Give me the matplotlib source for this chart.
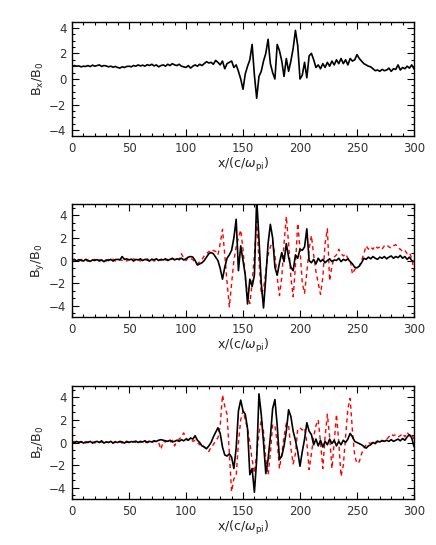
import numpy as np
import matplotlib
matplotlib.use("Agg")
import matplotlib.pyplot as plt
from matplotlib.ticker import MultipleLocator

# x positions (c/omega_pi), step 2 from 0 to 300
x = np.arange(0, 301, 2)

bx_black = [
 0.95, 1.05, 1.00, 1.02, 0.95, 1.00, 0.98, 1.05, 0.97, 1.08,
 1.00, 1.05, 1.10, 0.98, 1.05, 1.02, 0.95, 1.00, 0.92, 0.98,
 0.90, 0.85, 0.95, 0.90, 0.98, 1.00, 0.95, 1.05, 1.00, 1.10,
 1.02, 1.08, 1.00, 1.12, 1.05, 1.15, 1.02, 1.10, 0.95, 1.05,
 1.10, 1.00, 1.15, 1.05, 1.20, 1.10, 1.05, 1.15, 1.00, 0.95,
 0.90, 1.05, 0.85, 1.00, 1.10, 1.00, 1.15, 1.05, 1.20, 1.35,
 1.25, 1.30, 1.15, 1.45, 1.30, 1.10, 1.40, 0.80, 1.20, 1.30,
 1.40, 0.90, 1.10, 0.60, 0.00, -0.80, 0.40, 1.00, 1.50, 2.70,
 0.30, -1.50, 0.20, 0.60, 1.40, 2.00, 3.10, 1.20, 0.50, 0.00,
 2.70, 2.20, 1.40, 0.20, 1.60, 0.60, 1.40, 2.40, 3.80, 2.60,
 0.00, 0.30, 1.30, 0.10, 1.80, 2.00, 1.50, 0.90, 1.10, 0.80,
 1.20, 0.90, 1.30, 1.00, 1.40, 1.10, 1.50, 1.20, 1.60, 1.20,
 1.50, 1.10, 1.60, 1.40, 1.50, 1.90, 1.60, 1.40, 1.20, 1.10,
 1.00, 0.95, 0.80, 0.65, 0.70, 0.60, 0.75, 0.65, 0.70, 0.85,
 0.60, 0.80, 0.75, 1.10, 0.70, 0.90, 0.80, 1.00, 0.85, 1.10,
 0.80]

by_black = [
 0.05, 0.10, -0.05, 0.08, 0.00, -0.05, 0.10, 0.02, -0.08, 0.05,
 0.00, 0.08, -0.05, 0.05, -0.10, 0.05, 0.00, 0.10, -0.05, 0.08,
 0.10, 0.05, 0.35, 0.10, 0.15, 0.05, 0.12, -0.05, 0.10, 0.05,
 0.15, 0.00, 0.10, 0.05, -0.05, 0.12, 0.05, 0.15, 0.00, 0.10,
 0.05, 0.15, 0.00, 0.10, 0.20, 0.05, 0.15, 0.10, 0.20, 0.05,
 0.15, 0.30, 0.35, 0.30, 0.00, -0.40, -0.30, -0.20, 0.00, 0.30,
 0.60, 0.70, 0.60, 0.30, 0.00, -0.70, -1.65, -0.60, 0.20, 0.50,
 0.90, 2.00, 3.65, -0.90, 1.30, 0.00, -1.30, -3.85, -1.65, -2.30,
 -1.30, 5.50, 1.90, -2.00, -4.20, -1.50, 1.50, 3.20, 2.00, -0.60,
 -1.30, -0.20, 0.70, -0.10, 1.50, 0.30, -0.60, -0.90, 0.50, 0.20,
 1.00, 0.90, 1.20, 2.80, 0.00, -0.20, 0.10, -0.30, 0.20, -0.10,
 0.10, -0.20, 0.00, 0.15, -0.10, 0.05, 0.00, 0.20, -0.10, 0.10,
 0.00, 0.15, -0.10, -0.30, -0.60, -0.65, -0.50, -0.20, 0.20, 0.10,
 0.30, 0.15, 0.35, 0.20, 0.10, 0.30, 0.20, 0.35, 0.15, 0.30,
 0.40, 0.20, 0.35, 0.25, 0.45, 0.20, 0.35, 0.10, 0.30, 0.00,
 -0.10]

by_red = [
 0.00, 0.08, 0.00, -0.05, 0.10, 0.00, 0.05, -0.08, 0.10, 0.02,
 0.10, -0.05, 0.08, 0.00, 0.05, -0.05, 0.10, 0.00, 0.12, -0.05,
 0.05, 0.10, 0.00, 0.08, -0.05, 0.10, 0.00, 0.15, 0.02, 0.08,
 -0.05, 0.10, 0.05, 0.15, 0.00, 0.10, -0.05, 0.05, 0.10, 0.00,
 0.20, 0.05, 0.10, -0.05, 0.15, 0.10, 0.20, 0.05, 0.60, 0.20,
 0.00, 0.25, 0.15, 0.10, -0.20, -0.30, -0.10, 0.10, 0.40, 0.60,
 0.80, 0.70, 0.90, 0.80, 0.50, 1.50, 2.75, 0.50, -1.90, -4.10,
 -2.00, 0.00, 1.20, 2.00, 2.70, 1.00, -1.50, -3.00, -3.80, -2.00,
 0.50, 3.50, 0.00, -3.00, -2.50, -1.00, 0.50, 1.20, 1.70, 0.50,
 -1.50, -3.10, -1.50, 1.50, 3.90, 1.50, -1.50, -3.20, -0.50, 3.30,
 1.00, -2.00, -2.90, -1.00, 1.00, 2.20, 0.50, -1.00, -2.00, -3.00,
 -1.50, 1.50, 2.80, -1.80, -0.50, 0.30, 0.50, 1.00, 0.60, 0.40,
 0.60, 0.20, 0.10, -1.20, -0.80, -0.60, -0.50, 0.00, 0.60, 1.30,
 1.00, 1.20, 1.00, 1.30, 1.10, 1.20, 1.00, 1.30, 1.40, 1.20,
 1.10, 1.30, 1.40, 1.10, 1.00, 0.80, 0.90, 0.60, 0.70, 0.20,
 -0.90]

bz_black = [
 0.05, -0.05, 0.10, 0.00, 0.08, -0.05, 0.05, 0.00, 0.10, -0.05,
 0.05, 0.10, 0.00, 0.15, -0.05, 0.05, 0.00, 0.10, -0.05, 0.05,
 0.00, 0.10, 0.05, -0.05, 0.10, 0.00, 0.08, 0.05, 0.12, 0.00,
 0.10, 0.05, 0.15, 0.00, 0.10, 0.05, 0.15, 0.10, 0.20, 0.25,
 0.20, 0.15, 0.10, 0.20, 0.05, 0.10, 0.20, 0.10, 0.25, 0.15,
 0.30, 0.20, 0.40, 0.30, 0.60, 0.20, 0.00, -0.30, -0.40, -0.55,
 -0.30, 0.00, 0.50, 0.90, 1.30, 0.80, -0.40, -1.10, -1.20, -1.00,
 -1.30, -2.30, -0.50, 2.80, 3.75, 2.80, 2.50, 1.20, -2.85, -2.30,
 -4.40, -1.50, 4.30, 2.50, 0.00, -2.75, -1.50, 0.50, 3.00, 3.80,
 1.50, -1.50, -1.20, -0.30, 1.00, 2.90, 2.30, 1.00, 0.20, -0.80,
 -2.10, -0.80, 0.30, 1.75, 1.00, 0.70, -0.20, 0.30, -0.30, 0.20,
 -0.40, 0.10, -0.20, 0.30, -0.10, 0.20, -0.30, 0.10, -0.20, 0.20,
 0.00, 0.30, 0.80, 0.50, 0.10, 0.00, -0.10, -0.20, -0.35, -0.50,
 -0.30, -0.20, 0.00, -0.10, 0.10, 0.05, 0.15, 0.10, 0.20, 0.10,
 0.25, 0.10, 0.20, 0.30, 0.15, 0.35, 0.20, 0.50, 0.70, 0.40,
 -0.35]

bz_red = [
 0.00, 0.10, -0.05, 0.05, 0.00, 0.10, -0.05, 0.08, 0.00, 0.05,
 -0.05, 0.10, 0.00, 0.05, -0.10, 0.05, 0.00, 0.08, -0.05, 0.10,
 0.00, 0.05, -0.05, 0.10, 0.00, 0.05, -0.05, 0.10, 0.00, 0.15,
 0.00, 0.10, -0.05, 0.05, 0.15, 0.00, 0.10, 0.05, 0.00, -0.60,
 0.10, 0.05, 0.15, 0.00, 0.20, -0.30, 0.10, 0.30, 0.50, 0.85,
 0.40, 0.20, 0.30, 0.10, 0.20, 0.00, -0.20, -0.10, -0.40, -0.60,
 -0.80, -0.40, -0.20, 0.20, 0.40, 1.50, 4.20, 3.20, 2.50, -1.00,
 -4.35, -3.20, -3.00, 0.00, 2.00, 2.80, 2.00, 1.20, 0.00, -1.50,
 -2.70, -1.00, 0.80, 2.00, 1.00, -1.50, -2.85, -1.00, 1.60, 1.50,
 0.00, -2.30, -1.00, 0.50, 1.70, 1.50, -0.50, -1.90, -1.00, 1.20,
 1.30, 1.10, 1.30, 0.00, -2.40, -1.00, 0.50, 1.50, 2.00, 0.00,
 -2.30, 0.50, 2.50, 0.50, -2.30, 0.00, 2.50, 0.00, -3.00, -2.00,
 0.50, 3.00, 3.90, 1.00, -1.20, -1.85, -1.70, -1.00, -0.50, -0.20,
 0.00, -0.10, 0.10, 0.00, 0.15, 0.00, 0.20, 0.10, 0.30, 0.50,
 0.75, 0.60, 0.70, 0.50, 0.60, 0.80, 0.50, 0.90, 0.60, 0.70,
 0.30]

xticks = [0, 50, 100, 150, 200, 250, 300]
yticks = [-4, -2, 0, 2, 4]

plt.rcParams['font.family'] = ['DejaVu Sans']
plt.rcParams['mathtext.fontset'] = 'dejavusans'

fig = plt.figure(figsize=(4.36, 5.45), dpi=100)

panels = [
    dict(pos=[72/436, 1-136/545, 342/436, 114/545], ylim=(-4.45, 4.45),
         yminor=0.5, black=bx_black, red=None, ylabel=r'B$_{\rm x}$/B$_0$'),
    dict(pos=[72/436, 1-317/545, 342/436, 113/545], ylim=(-5, 5),
         yminor=2/3, black=by_black, red=by_red, ylabel=r'B$_{\rm y}$/B$_0$'),
    dict(pos=[72/436, 1-499/545, 342/436, 113/545], ylim=(-5, 5),
         yminor=2/3, black=bz_black, red=bz_red, ylabel=r'B$_{\rm z}$/B$_0$'),
]

for p in panels:
    ax = fig.add_axes(p['pos'])
    if p['red'] is not None:
        ax.plot(x, p['red'], color='red', lw=1.0, ls=(0, (3, 2.5)), zorder=2)
    ax.plot(x, p['black'], color='black', lw=1.2, zorder=3)
    ax.set_xlim(0, 300)
    ax.set_ylim(*p['ylim'])
    ax.set_xticks(xticks)
    ax.set_yticks(yticks)
    ax.xaxis.set_minor_locator(MultipleLocator(10))
    ax.yaxis.set_minor_locator(MultipleLocator(p['yminor']))
    ax.tick_params(which='both', direction='in', top=True, right=True,
                   labelsize=8.5, labelcolor='#333333', width=0.8)
    ax.tick_params(which='major', length=5, pad=4)
    ax.tick_params(which='minor', length=2.5)
    for s in ax.spines.values():
        s.set_linewidth(1.0)
    ax.set_xlabel(r'x/(c/$\omega_{\rm pi}$)', fontsize=9, labelpad=1, color='#222222')
    ax.set_ylabel(p['ylabel'], fontsize=9, labelpad=2, color='#222222')

fig.savefig('out.png', dpi=100)
